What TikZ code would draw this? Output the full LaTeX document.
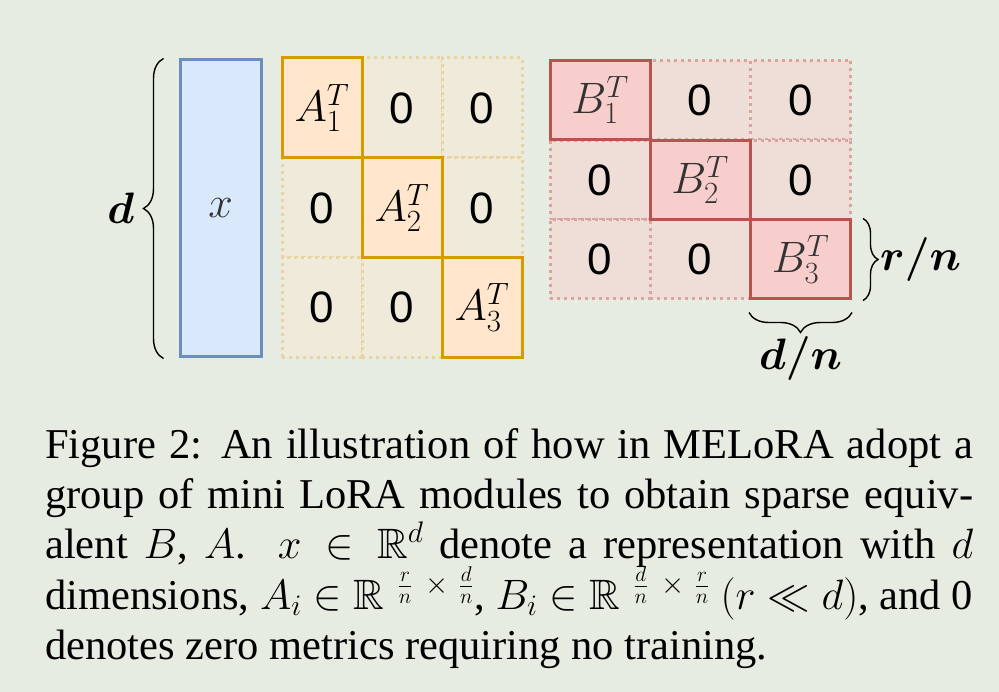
\RequirePackage{fix-cm}
\documentclass[tikz,border=0pt]{standalone}
\usepackage{amsmath,amssymb,bm}
\usepackage{fontspec}
\setmainfont{Liberation Serif}
\newfontfamily\zerofont{Liberation Sans}
\usetikzlibrary{decorations.pathreplacing}
\definecolor{bg}{HTML}{E6ECE2}
\definecolor{xfill}{HTML}{DAE8FC}
\definecolor{xdraw}{HTML}{6C8EBF}
\definecolor{afill}{HTML}{FFE6CC}
\definecolor{adraw}{HTML}{D79B00}
\definecolor{azfill}{HTML}{F0EADA}
\definecolor{azdraw}{HTML}{E8D4A0}
\definecolor{bfill}{HTML}{F8CECC}
\definecolor{bdraw}{HTML}{B85450}
\definecolor{bzfill}{HTML}{EFDED8}
\definecolor{bzdraw}{HTML}{DCA29E}
\definecolor{lbl}{HTML}{333333}
\newcommand{\supfrac}[2]{\mathbb{R}^{\mkern8mu\frac{#1}{n}\mkern8mu\times\mkern6mu\frac{#2}{n}}}
\begin{document}
\begin{tikzpicture}[x=1pt,y=-1pt,
  lab/.style={font=\fontsize{44}{44}\selectfont, inner sep=0pt},
  acell/.style={draw=adraw, fill=afill, line width=3pt, minimum width=80pt, minimum height=100pt, inner sep=0pt, font=\fontsize{44}{44}\selectfont},
  azcell/.style={draw=azdraw, fill=azfill, line width=3pt, dash pattern=on 3pt off 4pt, minimum width=80pt, minimum height=100pt, inner sep=0pt, font=\fontsize{44}{44}\selectfont\zerofont},
  bcell/.style={draw=bdraw, fill=bfill, line width=3pt, minimum width=100pt, minimum height=79pt, inner sep=0pt, font=\fontsize{44}{44}\selectfont, text=lbl},
  bzcell/.style={draw=bzdraw, fill=bzfill, line width=3pt, dash pattern=on 3pt off 4pt, minimum width=100pt, minimum height=79pt, inner sep=0pt, font=\fontsize{44}{44}\selectfont\zerofont},
  bracestyle/.style={decorate, line width=1.4pt, draw=black},
  captext/.style={anchor=base west, inner sep=0pt, font=\fontsize{42.5}{42.5}\selectfont}
]
\path[fill=bg, use as bounding box] (0,0) rectangle (999,692);

% x vector
\node[draw=xdraw, fill=xfill, line width=3pt, minimum width=81pt, minimum height=297pt, inner sep=0pt, font=\fontsize{44}{44}\selectfont, text=lbl] (x) at (220.5,208.5) {$x$};
\draw[bracestyle, decoration={brace, amplitude=20pt}] ([xshift=-15pt]x.south west) -- ([xshift=-15pt]x.north west) coordinate[midway, xshift=-29pt] (dtip);
\node[lab, anchor=east] (dlab) at (dtip) {$\bm{d}$};

% A matrix (off-diagonal first)
\node[azcell] (a12) at (402,108) {0};
\node[azcell] (a13) at (482,108) {0};
\node[azcell] (a21) at (322,208) {0};
\node[azcell] (a23) at (482,208) {0};
\node[azcell] (a31) at (322,307.5) {0};
\node[azcell] (a32) at (402,307.5) {0};
\node[acell] (a11) at (322,108) {$A_1^T$};
\node[acell] (a22) at (402,208) {$A_2^T$};
\node[acell] (a33) at (482,307.5) {$A_3^T$};

% B matrix
\node[bzcell] (b12) at (700,100) {0};
\node[bzcell] (b13) at (800.5,100) {0};
\node[bzcell] (b21) at (600,180) {0};
\node[bzcell] (b23) at (800.5,180) {0};
\node[bzcell] (b31) at (600,259.5) {0};
\node[bzcell] (b32) at (700,259.5) {0};
\node[bcell] (b11) at (600,100) {$B_1^T$};
\node[bcell] (b22) at (700,180) {$B_2^T$};
\node[bcell] (b33) at (800.5,259.5) {$B_3^T$};

% braces
\draw[bracestyle, decoration={brace, amplitude=15pt}] ([xshift=11pt]b33.north east) -- ([xshift=11pt]b33.south east) coordinate[midway, xshift=17pt] (rtip);
\node[lab, anchor=west] (rn) at (rtip) {$\bm{r/n}$};
\draw[bracestyle, decoration={brace, amplitude=20pt}] ([yshift=-12pt]b33.south east) -- ([yshift=-12pt]b33.south west) coordinate[midway, yshift=-24pt] (dntip);
\node[lab, anchor=north] (dn) at (dntip) {$\bm{d/n}$};

% caption
\node[captext] (c1) at (45,459) {\makebox[928pt][s]{Figure 2: An illustration of how in MELoRA adopt a}};
\node[captext] (c2) at (45,508) {\makebox[928pt][s]{group of mini LoRA modules to obtain sparse equiv-}};
\node[captext] (c3) at (45,558) {\makebox[928pt][s]{alent \mbox{$B$},\ \mbox{$A$}.\ \ $x\in\mathbb{R}^d$ denote a representation with \mbox{$d$}}};
\node[captext] (c4) at (45,609) {\makebox[928pt][s]{dimensions, \mbox{$A_i\in\supfrac{r}{d}$}, \mbox{$B_i\in\supfrac{d}{r}$} \mbox{$(r\ll d)$}, and 0}};
\node[captext] (c5) at (45,659) {denotes zero metrics requiring no training.};
\end{tikzpicture}
\end{document}
